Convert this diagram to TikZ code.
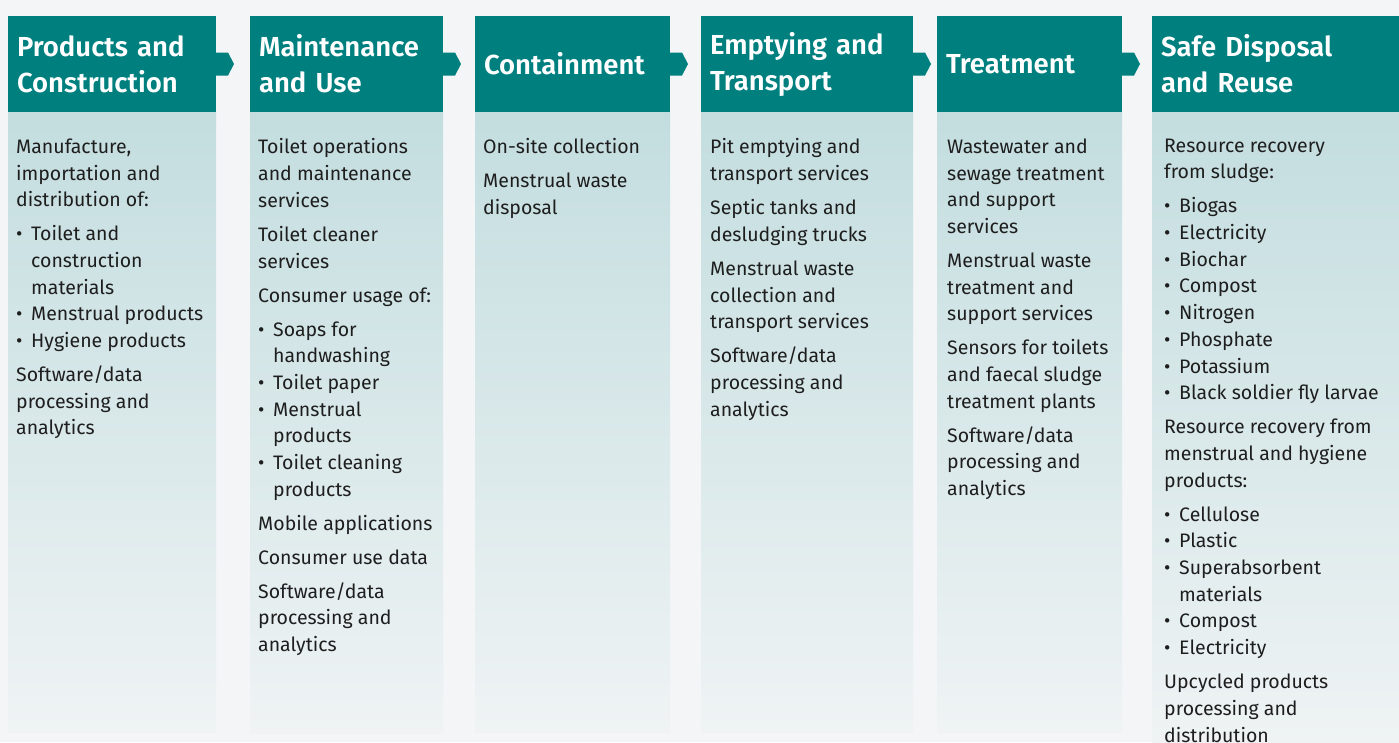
\documentclass[tikz,border=0pt]{standalone}
\usepackage{fontspec}
\setmainfont{Fira Sans}[BoldFont={Fira Sans SemiBold}]
\usetikzlibrary{positioning}

\definecolor{tealhead}{HTML}{007F7F}
\definecolor{bodytop}{HTML}{C3DDDF}
\definecolor{bodybot}{HTML}{EFF3F4}
\definecolor{pagebg}{HTML}{F3F5F7}
\definecolor{inktext}{HTML}{1E1E1E}

% bullet line, continued line, gap between paragraphs
\newcommand{\bul}[1]{\makebox[15pt][l]{\textbullet}#1}
\newcommand{\cnt}[1]{\hspace*{15pt}#1}
\newcommand{\gap}{\\[7.3pt]}

\begin{document}
\begin{tikzpicture}[x=1pt,y=-1pt,
    head/.style={fill=tealhead, text=white, anchor=north west, align=left,
      minimum height=96pt, inner xsep=9pt, inner ysep=0pt, outer sep=0pt,
      font=\fontsize{27.5}{36}\selectfont\bfseries},
    bodytext/.style={anchor=north west, align=left, inner sep=0pt,
      text=inktext, font=\fontsize{19.5}{26.7}\selectfont}]

    % page
    \fill[pagebg] (0,0) rectangle (1399,742);
    \useasboundingbox (0,0) rectangle (1399,742);

    % 6 columns: faded body and teal header
    \foreach \i/\xa/\xb/\yb/\title [evaluate=\xb as \tw using \xb-\xa-18] in
      {1/8/216/732/{Products and\\Construction},
        2/250/443/733/{Maintenance\\and Use},
        3/475/670/732/{Containment},
        4/701/913/732/{Emptying and\\Transport},
        5/937/1122/732/{Treatment},
        6/1152/1399/742/{Safe Disposal\\and Reuse}} {
      \shade[top color=bodytop, bottom color=bodybot] (\xa,111) rectangle (\xb,\yb);
      \node[head, text width=\tw pt] (h\i) at (\xa,16) {\title};
    }

    % 5 arrow tips between the headers
    \foreach \i in {1,...,5} {
      \fill[tealhead] (h\i.east) ++(0,-11.5) -- ++(12,0) -- ++(6,11.5)
        -- ++(-6,11.5) -- ++(-12,0) -- cycle;
    }

    \node[bodytext] (b1) at (16,138.5) {Manufacture,\\importation and\\distribution of:\gap
      \bul{Toilet and}\\\cnt{construction}\\\cnt{materials}\\\bul{Menstrual products}\\\bul{Hygiene products}\gap
      Software/data\\processing and\\analytics};

    \node[bodytext] (b2) at (258,138.5) {Toilet operations\\and maintenance\\services\gap
      Toilet cleaner\\services\gap
      Consumer usage of:\gap
      \bul{Soaps for}\\\cnt{handwashing}\\\bul{Toilet paper}\\\bul{Menstrual}\\\cnt{products}\\\bul{Toilet cleaning}\\\cnt{products}\gap
      Mobile applications\gap
      Consumer use data\gap
      Software/data\\processing and\\analytics};

    \node[bodytext] (b3) at (483,138.5) {On-site collection\gap
      Menstrual waste\\disposal};

    \node[bodytext] (b4) at (710,138.5) {Pit emptying and\\transport services\gap
      Septic tanks and\\desludging trucks\gap
      Menstrual waste\\collection and\\transport services\gap
      Software/data\\processing and\\analytics};

    \node[bodytext] (b5) at (947,138.5) {Wastewater and\\sewage treatment\\and support\\services\gap
      Menstrual waste\\treatment and\\support services\gap
      Sensors for toilets\\and faecal sludge\\treatment plants\gap
      Software/data\\processing and\\analytics};

    \node[bodytext] (b6) at (1164,138.5) {Resource recovery\\from sludge:\gap
      \bul{Biogas}\\\bul{Electricity}\\\bul{Biochar}\\\bul{Compost}\\\bul{Nitrogen}\\\bul{Phosphate}\\\bul{Potassium}\\\bul{Black soldier fly larvae}\gap
      Resource recovery from\\menstrual and hygiene\\products:\gap
      \bul{Cellulose}\\\bul{Plastic}\\\bul{Superabsorbent}\\\cnt{materials}\\\bul{Compost}\\\bul{Electricity}\gap
      Upcycled products\\processing and\\distribution};

  \end{tikzpicture}
\end{document}
